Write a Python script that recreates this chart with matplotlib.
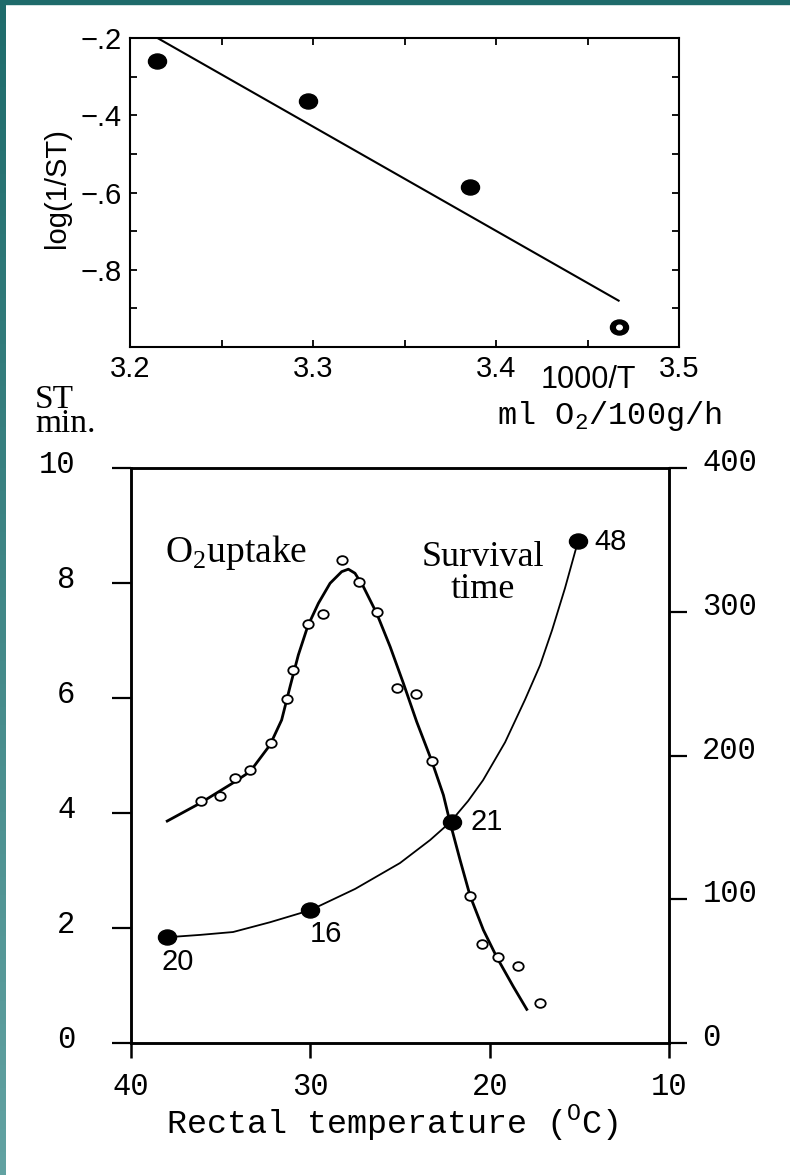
import matplotlib
matplotlib.use("Agg")
import matplotlib.pyplot as plt
import numpy as np
from matplotlib.path import Path
from matplotlib.patches import Rectangle
from matplotlib.transforms import Affine2D, ScaledTranslation
from matplotlib.colors import LinearSegmentedColormap
from matplotlib.ticker import FixedLocator, FuncFormatter

plt.rcParams["mathtext.fontset"] = "custom"
plt.rcParams["mathtext.rm"] = "Liberation Serif"
plt.rcParams["mathtext.tt"] = "Liberation Mono"

# top panel: log(1/ST) against 1000/T
inv_temp = [3.215, 3.297, 3.386, 3.467]
log_inv_st = [-0.26, -0.363, -0.586, -0.949]
fit_x = [3.215, 3.467]
fit_y = [-0.20, -0.88]

# bottom panel: survival time (min) against rectal temperature (C)
surv_temp = [38.0, 30.0, 22.1, 15.1]
surv_min = [1.84, 2.31, 3.84, 8.73]
surv_labels = ["20", "16", "21", "48"]
surv_curve_temp = [37.94, 36.15, 34.31, 32.25, 30.0, 27.5, 25.0, 23.32, 22.2,
                   21.2, 20.37, 19.14, 18.03, 17.19, 16.52, 15.8, 15.07]
surv_curve_min = [1.84, 1.88, 1.93, 2.10, 2.31, 2.68, 3.13, 3.53, 3.84,
                  4.21, 4.57, 5.23, 5.97, 6.57, 7.18, 7.91, 8.73]

# O2 uptake (ml O2/100g/h) against rectal temperature
o2_temp = [36.11, 35.04, 34.20, 33.36, 32.21, 31.32, 30.98, 30.14, 29.27, 28.25,
           27.27, 26.30, 25.15, 24.12, 23.23, 21.09, 20.44, 19.51, 18.40, 17.19]
o2_rate = [168.4, 171.8, 184.6, 189.9, 208.9, 239.5, 259.5, 291.3, 298.2, 336.0,
           320.5, 299.6, 246.8, 242.8, 196.2, 102.3, 68.7, 59.6, 53.6, 27.6]
o2_curve_temp = [37.98, 36.15, 34.29, 33.36, 32.25, 31.60, 31.13, 30.67, 30.14, 29.55,
                 28.90, 28.25, 27.88, 27.51, 27.04, 26.30, 25.55, 24.81, 24.07, 23.23,
                 22.58, 22.21, 21.65, 21.09, 20.35, 19.60, 18.68, 17.93]
o2_curve_rate = [154.4, 166.8, 181.1, 188.8, 207.3, 224.7, 247.9, 269.9, 290.1, 305.9,
                 319.8, 327.9, 329.6, 326.8, 317.4, 298.9, 275.7, 250.2, 223.5, 196.2,
                 172.5, 153.5, 127.3, 102.3, 78.6, 59.6, 39.2, 23.4]

W, H = 790, 1175
SANS = "Liberation Sans"
SERIF = "Liberation Serif"
MONO = "Liberation Mono"

# slightly flattened dot, like the hand-inked ones
ellipse = Path(Affine2D().scale(1.2, 1.0).transform(Path.unit_circle().vertices),
               Path.unit_circle().codes)

fig = plt.figure(figsize=(W / 100, H / 100), dpi=100)

# teal slide frame
band = fig.add_axes([0, 0, 6 / W, 1])
band.imshow(np.linspace(0, 1, 256)[:, None], aspect="auto",
            cmap=LinearSegmentedColormap.from_list("teal", ["#1e6b6b", "#62a2a2"]))
band.axis("off")
fig.add_artist(Rectangle((0, 1 - 4 / H), 1, 4 / H, transform=fig.transFigure,
                         color="#1e6b6b", zorder=5))

# ---- top panel
ax_t = fig.add_axes([130 / W, 1 - 347 / H, 549 / W, 309 / H])
ax_t.plot(fit_x, fit_y, color="black", lw=1.5)
ax_t.plot(inv_temp, log_inv_st, ls="none", marker=ellipse, ms=13, color="black")
ax_t.plot(inv_temp[-1:], log_inv_st[-1:], ls="none", marker=ellipse, ms=4, color="white")
ax_t.set_xlim(3.2, 3.5)
ax_t.set_ylim(-1.0, -0.2)
ax_t.xaxis.set_major_locator(FixedLocator([3.2, 3.3, 3.4, 3.5]))
ax_t.xaxis.set_minor_locator(FixedLocator([3.25, 3.35, 3.45]))
ax_t.yaxis.set_major_locator(FixedLocator([-0.8, -0.6, -0.4, -0.2]))
ax_t.yaxis.set_minor_locator(FixedLocator([-0.9, -0.7, -0.5, -0.3]))
ax_t.yaxis.set_major_formatter(FuncFormatter(lambda v, p: "\u2212.%d" % round(-v * 10)))
ax_t.tick_params(which="both", direction="in", length=5, width=1.3,
                 top=True, right=True, labelsize=21, pad=6)
for lab in ax_t.get_xticklabels() + ax_t.get_yticklabels():
    lab.set_family(SANS)
for s in ax_t.spines.values():
    s.set_linewidth(1.5)
fig.text(57 / W, 1 - 188 / H, "log(1/ST)", rotation=90, ha="center", va="center",
         fontsize=21, family=SANS)
fig.text(588 / W, 1 - 380 / H, "1000/T", ha="center", va="center", fontsize=22, family=SANS)

# ---- bottom panel
ax = fig.add_axes([131 / W, 1 - 1043 / H, 538 / W, 575 / H])
ax2 = ax.twinx()

ax.plot(surv_curve_temp, surv_curve_min, color="black", lw=1.3)
ax.plot(surv_temp, surv_min, ls="none", marker=ellipse, ms=13, color="black", zorder=4)
ax2.plot(o2_curve_temp, o2_curve_rate, color="black", lw=2.0)
ax2.plot(o2_temp, o2_rate, ls="none", marker=ellipse, ms=7.5, mfc="white",
         mec="black", mew=1.3)

label_offsets = [((8, -18), "center"), ((11, -17), "center"), ((13, 0), "left"), ((12, -1), "left")]
for t, m, txt, (off, ha) in zip(surv_temp, surv_min, surv_labels, label_offsets):
    ax.annotate(txt, (t, m), xytext=off, textcoords="offset points", ha=ha, va="center",
                fontsize=21, family=SANS)

ax.set_xlim(40, 10)
ax.set_ylim(0, 10)
ax2.set_ylim(0, 400)
ax.set_xticks([40, 30, 20, 10])
ax.set_yticks([0, 2, 4, 6, 8, 10])
ax2.set_yticks([0, 100, 200, 300, 400])
ax.tick_params(axis="x", direction="out", length=11, width=1.8, labelsize=22, pad=10)
ax.tick_params(axis="y", direction="out", length=14, width=1.6, labelsize=22, pad=26)
ax2.tick_params(axis="y", direction="out", length=13, width=1.6, labelsize=22, pad=11)
raise_left = ScaledTranslation(0, 5 / 72, fig.dpi_scale_trans)
raise_right = ScaledTranslation(0, 6 / 72, fig.dpi_scale_trans)
for lab in ax.get_xticklabels():
    lab.set_family(MONO)
for lab in ax.get_yticklabels():
    lab.set_family(MONO)
    lab.set_transform(lab.get_transform() + raise_left)
for lab in ax2.get_yticklabels():
    lab.set_family(MONO)
    lab.set_transform(lab.get_transform() + raise_right)
for a in (ax, ax2):
    for s in a.spines.values():
        s.set_linewidth(1.8)

fig.text(392 / W, 1 - 1133 / H, r"Rectal temperature ($^\mathtt{O}$C)", ha="center",
         va="baseline", fontsize=24, family=MONO)
fig.text(497 / W, 1 - 424 / H, r"ml O$_\mathtt{2}$/100g/h", ha="left", va="baseline",
         fontsize=23, family=MONO)
fig.text(35 / W, 1 - 385 / H, "ST\nmin.", ha="left", va="top", fontsize=24,
         family=SERIF, linespacing=0.72, multialignment="left")
fig.text(165 / W, 1 - 562 / H, r"O$_2$uptake", ha="left", va="baseline", fontsize=27,
         family=SERIF)
fig.text(483 / W, 1 - 598 / H, "Survival\ntime", ha="center", va="baseline",
         fontsize=26, family=SERIF, linespacing=0.95, multialignment="center")

fig.savefig("out.png", dpi=100)
